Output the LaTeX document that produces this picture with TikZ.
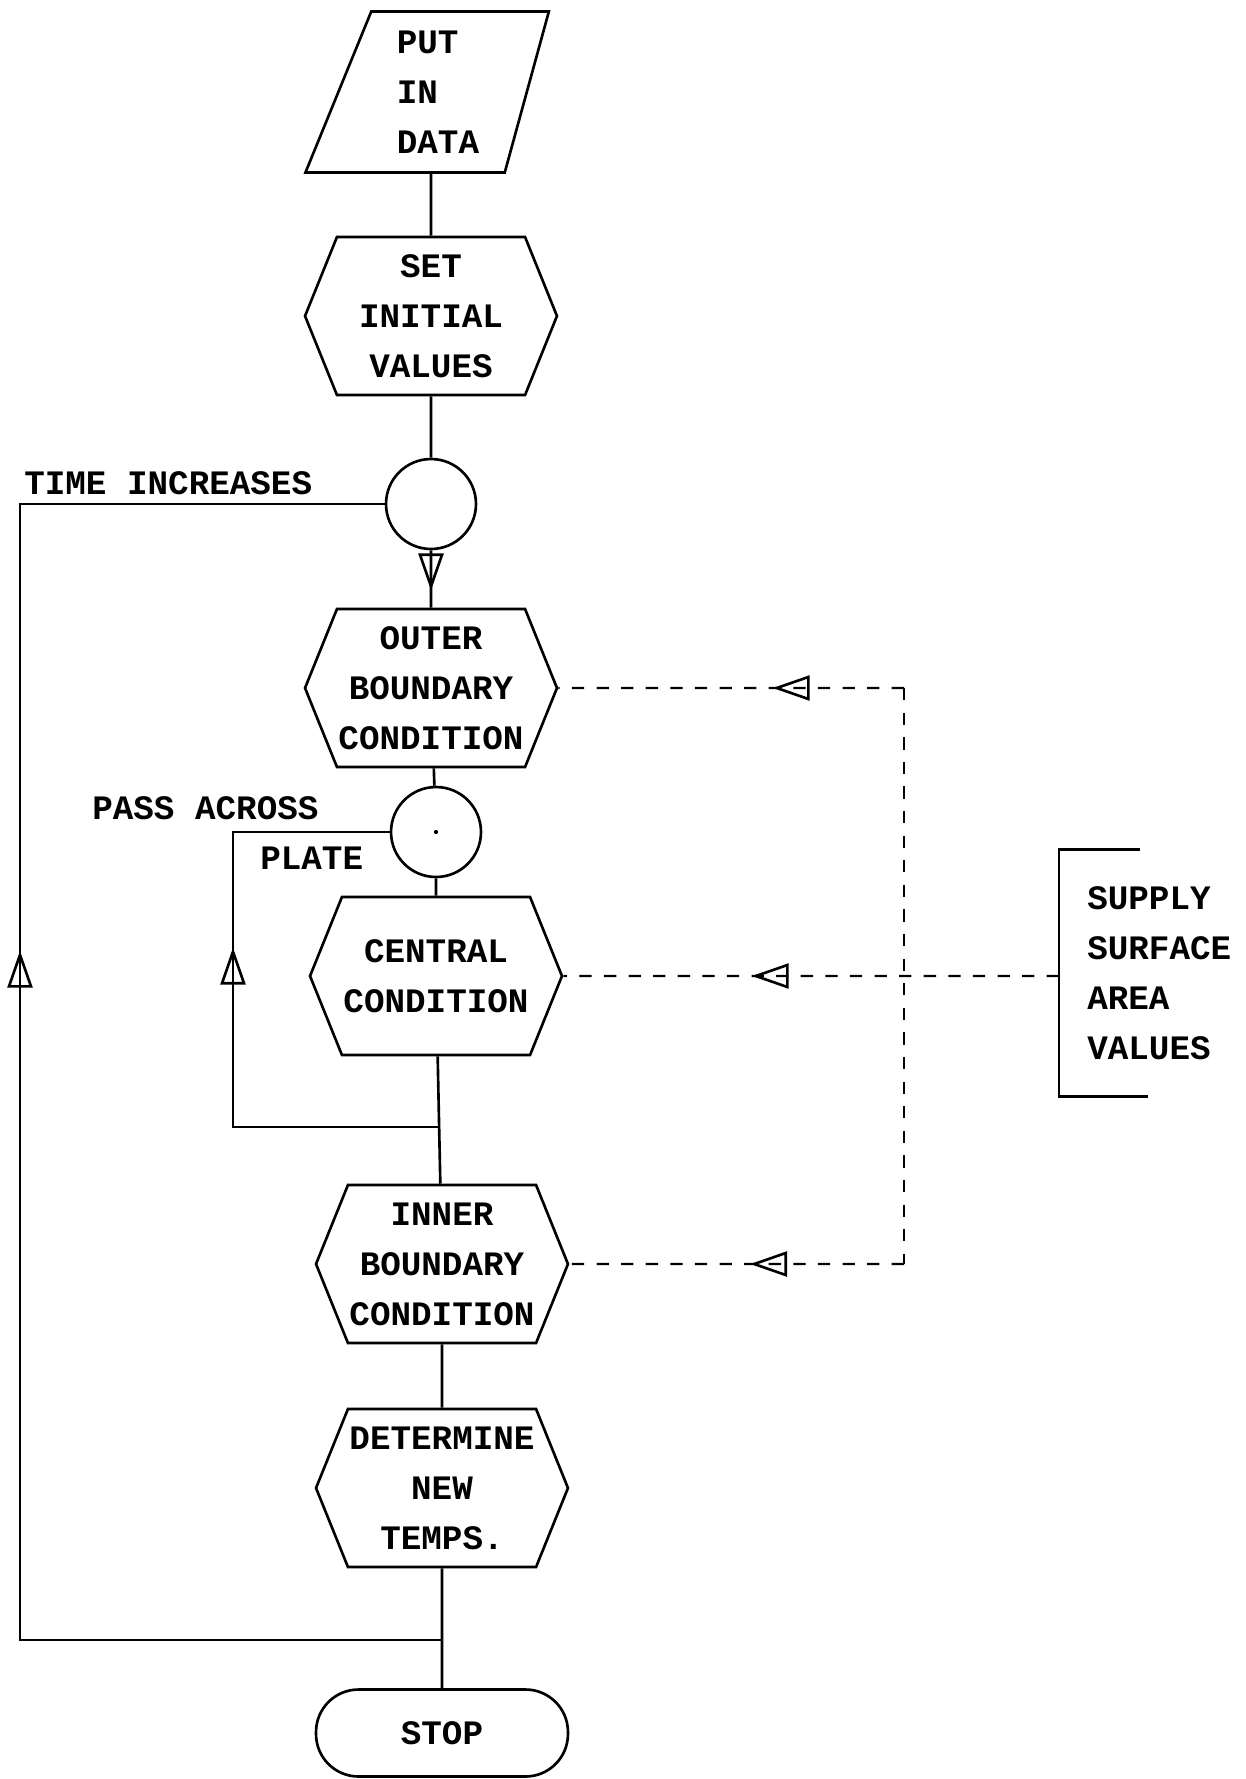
\documentclass[tikz,border=0pt]{standalone}
\usepackage{fontspec}
\setmainfont{Liberation Mono}
\usetikzlibrary{arrows.meta,shapes.geometric,shapes.symbols,positioning,calc,decorations.markings}

\begin{document}
\begin{tikzpicture}[x=0.02cm, y=-0.02cm,
    font=\bfseries\fontsize{19.5}{28.5}\selectfont, line width=1.5pt,
    flowtip/.tip={Triangle[open, length=0.74cm, width=0.5cm, line width=1.5pt]},
    hexa/.style={draw, shape=signal, signal to=east and west, signal pointer angle=136,
                 minimum width=5.04cm, minimum height=3.16cm, inner sep=0pt, align=center},
    junc/.style={draw, circle, minimum size=1.8cm, inner sep=0pt},
    iobox/.style={draw, trapezium, trapezium left angle=71, trapezium right angle=103,
                  trapezium stretches=true, minimum width=4.9cm, minimum height=3.22cm,
                  align=left},
    term/.style={draw, rounded corners=0.85cm, minimum width=5.04cm, minimum height=1.74cm},
    lbl/.style={anchor=west, inner sep=0pt},
    dashline/.style={line width=1.3pt, dash pattern=on 7pt off 7pt},
    midtip/.style={postaction={decorate}, decoration={markings,
        mark=at position #1 with {\arrow{flowtip}}}}]
  \useasboundingbox (0,0) rectangle (1246,1779);
  %% Main column
  \node[iobox] (inp)     at (438,92)   {PUT\\IN\\DATA};
  \node[hexa]  (init)    at (431,316)  {SET\\INITIAL\\VALUES};
  \node[junc]  (tloop)   at (431,504)  {};
  \node[hexa]  (outer)   at (431,688)  {OUTER\\BOUNDARY\\CONDITION};
  \node[junc]  (ploop)   at (436,832)  {};
  \fill (ploop) circle (1.2pt);
  \node[hexa]  (central) at (436,976)  {CENTRAL\\CONDITION};
  \node[hexa]  (inner)   at (442,1264) {INNER\\BOUNDARY\\CONDITION};
  \node[hexa]  (newt)    at (442,1488) {DETERMINE\\NEW\\TEMPS.};
  \node[term]  (stop)    at (442,1733) {STOP};
  %% Side data
  \node[anchor=west, align=left, inner xsep=0.54cm, inner ysep=0pt,
        minimum height=4.88cm] (supply) at (1059,973)
    {SUPPLY\\SURFACE\\AREA\\VALUES};
  \draw ($(supply.north west)+(81,0)$) -- (supply.north west)
    -- (supply.south west) -- ++(89,0);
  %% Labels
  \node[lbl] (tlabel) at (23,483)  {TIME INCREASES};
  \node[lbl] (plabel) at (91,808)  {PASS ACROSS};
  \node[lbl] (plate)  at (259,858) {PLATE};
  %% Corner points
  \coordinate (tjoin) at (442,1640);
  \coordinate (tleft) at (20,504);
  \coordinate (pjoin) at (439,1127);
  \coordinate (pleft) at (233,832);
  \coordinate (vtop)  at (904,688);
  \coordinate (vbot)  at (904,1264);
  %% Flow
  \draw (init) -- (init |- inp.south);
  \draw (init) -- (tloop);
  \draw[midtip=0.7] (tloop) -- (outer);
  \draw (outer) -- (ploop);
  \draw (ploop) -- (central);
  \draw (central) -- (inner);
  \draw (inner) -- (newt);
  \draw (newt) -- (stop);
  %% Loops
  \draw[midtip=0.578] (tjoin) -| (tleft) -- (tloop);
  \draw[midtip=0.586] (pjoin) -| (pleft) -- (ploop);
  %% Surface area feed
  \draw[dashline, midtip=0.38] (vtop) -- (outer);
  \draw[dashline] (vtop) -- (vbot);
  \draw[dashline, midtip=0.46] (vbot) -- (inner);
  \draw[dashline, midtip=0.62] (supply.west |- central) -- (central);
\end{tikzpicture}
\end{document}
